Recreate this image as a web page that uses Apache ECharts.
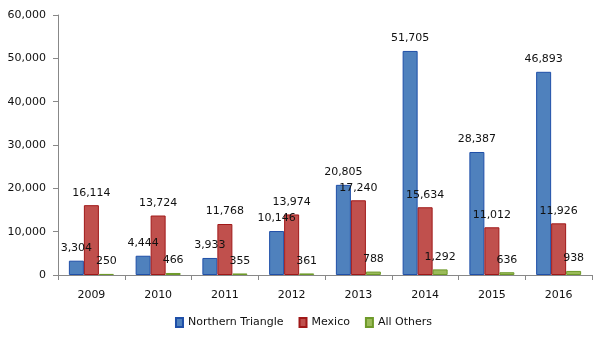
<!DOCTYPE html>
<html><head><meta charset="utf-8">
<script src="https://cdn.jsdelivr.net/npm/echarts@6/dist/echarts.min.js"></script>
<style>html,body{margin:0;padding:0;background:#fff}#c{width:607px;height:340px}</style>
</head><body><div id="c"></div>
<script>
var categories = ['2009','2010','2011','2012','2013','2014','2015','2016'];
var northernTriangle = [3304, 4444, 3933, 10146, 20805, 51705, 28387, 46893];
var mexico = [16114, 13724, 11768, 13974, 17240, 15634, 11012, 11926];
var allOthers = [250, 466, 355, 361, 788, 1292, 636, 938];
var seriesNames = ['Northern Triangle', 'Mexico', 'All Others'];

var fmt = function (v) { return Number(v).toLocaleString('en-US'); };
var FONT = 'DejaVu Sans';
function mk(name, data, color, border) {
  return {
    name: name, type: 'bar', data: data, barWidth: 15, barGap: '0%',
    itemStyle: { color: color, borderColor: border, borderWidth: 1 },
    label: { show: true, position: 'top', distance: 7, color: '#111', fontFamily: FONT, fontSize: 11,
             formatter: function (p) { return fmt(p.value); } }
  };
}
var chart = echarts.init(document.getElementById('c'), null, { renderer: 'canvas' });
chart.setOption({
  animation: false,
  textStyle: { fontFamily: FONT },
  grid: { left: 58, right: 15, top: 15, bottom: 65 },
  legend: {
    bottom: 7, left: 'center', itemWidth: 7, itemHeight: 9, itemGap: 15, icon: 'rect',
    textStyle: { fontFamily: FONT, fontSize: 11, color: '#111' },
    data: seriesNames
  },
  xAxis: {
    type: 'category', data: categories,
    axisLine: { lineStyle: { color: '#888' } },
    axisTick: { show: true, length: 5, lineStyle: { color: '#888' } },
    axisLabel: { color: '#111', fontFamily: FONT, fontSize: 11, margin: 15 }
  },
  yAxis: {
    type: 'value', min: 0, max: 60000, interval: 10000,
    splitLine: { show: false },
    axisLine: { show: true, lineStyle: { color: '#888' } },
    axisTick: { show: true, length: 5, lineStyle: { color: '#888' } },
    axisLabel: { color: '#111', fontFamily: FONT, fontSize: 11, margin: 12, formatter: fmt }
  },
  series: [
    mk(seriesNames[0], northernTriangle, '#4F81BD', '#1F4FA8'),
    mk(seriesNames[1], mexico, '#C0504D', '#A01818'),
    mk(seriesNames[2], allOthers, '#9BBB59', '#6E9A2A')
  ]
});
</script></body></html>
